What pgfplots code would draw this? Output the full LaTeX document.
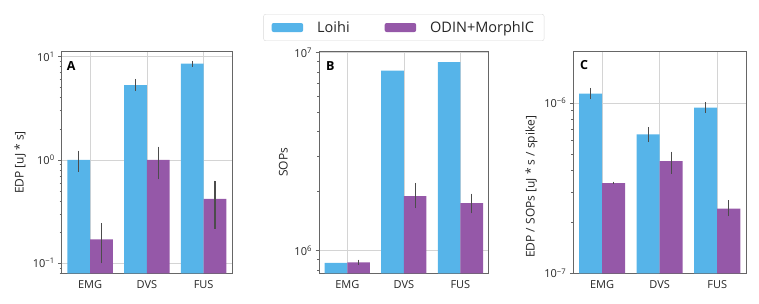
\documentclass[border=0pt]{standalone}
\usepackage{fontspec}
\setmainfont{Open Sans}
\usepackage{pgfplots}
\pgfplotsset{compat=1.18}
\usepackage{pgfplotstable}
\definecolor{loihi}{HTML}{56B4E9}
\definecolor{odin}{HTML}{9558A8}

% panel A: EDP
\pgfplotstableread{
x y ep em
0 1.0 0.23 0.23
1 5.3 0.8 0.6
2 8.55 0.55 0.6
}\Aloihi
\pgfplotstableread{
x y ep em
0 0.17 0.075 0.07
1 1.0 0.35 0.35
2 0.42 0.21 0.205
}\Aodin
% panel B: SOPs
\pgfplotstableread{
x y
0 8.67e5
1 8.11e6
2 8.97e6
}\Bloihi
\pgfplotstableread{
x y ep em
0 8.73e5 2.7e4 2.6e4
1 1.885e6 3.15e5 2.45e5
2 1.74e6 2.0e5 1.95e5
}\Bodin
% panel C: EDP/SOPs
\pgfplotstableread{
x y ep em
0 1.135e-6 0.09e-6 0.08e-6
1 6.55e-7 0.65e-7 0.65e-7
2 9.38e-7 0.75e-7 0.61e-7
}\Cloihi
\pgfplotstableread{
x y ep em
0 3.39e-7 0.06e-7 0.06e-7
1 4.56e-7 0.62e-7 0.71e-7
2 2.4e-7 0.29e-7 0.23e-7
}\Codin

\newcommand{\logtick}{\pgfmathtruncatemacro{\e}{round(\tick)}10\textsuperscript{\ifnum\e<0 −\number\numexpr-\e\relax\else\e\fi}}

\pgfplotsset{
  every axis/.append style={
    scale only axis, height=221.6pt,
    xmin=-0.5, xmax=2.5, xtick={0,1,2}, xticklabels={EMG,DVS,FUS},
    bar width=0.4,
    grid=major, grid style={black!17, line width=0.6pt},
    axis line style={black!60, line width=0.6pt},
    tick style={black!60, line width=0.6pt},
    xtick style={draw=none},
    tick align=outside, xtick pos=bottom, ytick pos=left,
    major tick length=3.5pt, minor tick length=2pt,
    ticklabel style={font=\fontsize{11}{13}\selectfont, text=black!85},
    label style={font=\fontsize{12}{14}\selectfont, text=black!85},
  },
}

\begin{document}
\begin{tikzpicture}
\useasboundingbox (0,0) rectangle (759pt,304pt);

\begin{axis}[ymode=log, log basis y=10, log origin y=infty, ybar, yticklabel={\logtick},
  width=170.3pt, at={(61.7pt,30.7pt)}, anchor=south west,
  ymin=0.08, ymax=11.17, ylabel={EDP [uJ * s]}]
\addplot[fill=loihi, draw=none, bar shift=-0.2,
  error bars/.cd, y dir=both, y explicit, error mark=none, error bar style={line width=1.1pt, black!70}]
  table[x=x, y=y, y error plus=ep, y error minus=em] {\Aloihi};
\addplot[fill=odin, draw=none, bar shift=0.2,
  error bars/.cd, y dir=both, y explicit, error mark=none, error bar style={line width=1.1pt, black!70}]
  table[x=x, y=y, y error plus=ep, y error minus=em] {\Aodin};
\node[anchor=north west, inner sep=0pt, font=\bfseries\fontsize{12.5}{14}\selectfont, xshift=5pt, yshift=-10pt] at (rel axis cs:0,1) {A};
\end{axis}

\begin{axis}[ymode=log, log basis y=10, log origin y=infty, ybar, yticklabel={\logtick},
  width=169.7pt, at={(319pt,30.7pt)}, anchor=south west,
  ymin=7.69e5, ymax=1.012e7, ylabel={SOPs},
  legend columns=2,
  legend image code/.code={\fill[#1] (0pt,-4.5pt) rectangle (31.5pt,4.5pt);},
  legend style={at={(0.5,1)}, anchor=south, yshift=10.7pt, draw=black!15, rounded corners=2pt,
    fill=white, inner xsep=8pt, inner ysep=5pt,
    font=\fontsize{14.5}{16}\selectfont, text=black!85,
    /tikz/every odd column/.append style={column sep=12pt},
    /tikz/every even column/.append style={column sep=33pt}}]
\addplot[fill=loihi, draw=none, bar shift=-0.2] table[x=x, y=y] {\Bloihi};
\addlegendentry{Loihi}
\addplot[fill=odin, draw=none, bar shift=0.2,
  error bars/.cd, y dir=both, y explicit, error mark=none, error bar style={line width=1.1pt, black!70}]
  table[x=x, y=y, y error plus=ep, y error minus=em] {\Bodin};
\addlegendentry{ODIN+MorphIC\hspace{20pt}}
\node[anchor=north west, inner sep=0pt, font=\bfseries\fontsize{12.5}{14}\selectfont, xshift=7pt, yshift=-10pt] at (rel axis cs:0,1) {B};
\end{axis}

\begin{axis}[ymode=log, log basis y=10, log origin y=infty, ybar, yticklabel={\logtick},
  width=172.7pt, at={(573.3pt,30.7pt)}, anchor=south west,
  ymin=1e-7, ymax=2e-6, ylabel={EDP / SOPs [uJ * s / spike]},
  ylabel style={at={(ticklabel cs:0.39)}}]
\addplot[fill=loihi, draw=none, bar shift=-0.2,
  error bars/.cd, y dir=both, y explicit, error mark=none, error bar style={line width=1.1pt, black!70}]
  table[x=x, y=y, y error plus=ep, y error minus=em] {\Cloihi};
\addplot[fill=odin, draw=none, bar shift=0.2,
  error bars/.cd, y dir=both, y explicit, error mark=none, error bar style={line width=1.1pt, black!70}]
  table[x=x, y=y, y error plus=ep, y error minus=em] {\Codin};
\node[anchor=north west, inner sep=0pt, font=\bfseries\fontsize{12.5}{14}\selectfont, xshift=6.7pt, yshift=-8.5pt] at (rel axis cs:0,1) {C};
\end{axis}
\end{tikzpicture}
\end{document}
